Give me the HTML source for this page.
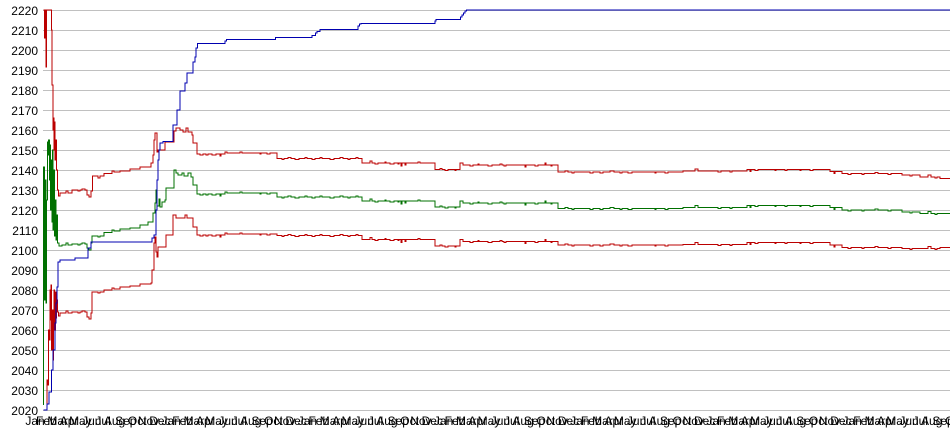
<!DOCTYPE html>
<html>
<head>
<meta charset="utf-8">
<style>
html,body{margin:0;padding:0;background:#fff;}
svg{display:block;}
text{font-family:"Liberation Sans",Arial,sans-serif;font-size:12px;fill:#000;}
</style>
</head>
<body>
<svg width="950" height="435" viewBox="0 0 950 435" xmlns="http://www.w3.org/2000/svg">
<rect x="0" y="0" width="950" height="435" fill="#fff"/>
<g stroke="#c0c0c0" stroke-width="1" shape-rendering="crispEdges">
<line x1="43" x2="950" y1="10.5" y2="10.5"/>
<line x1="43" x2="950" y1="30.5" y2="30.5"/>
<line x1="43" x2="950" y1="50.5" y2="50.5"/>
<line x1="43" x2="950" y1="70.5" y2="70.5"/>
<line x1="43" x2="950" y1="90.5" y2="90.5"/>
<line x1="43" x2="950" y1="110.5" y2="110.5"/>
<line x1="43" x2="950" y1="130.5" y2="130.5"/>
<line x1="43" x2="950" y1="150.5" y2="150.5"/>
<line x1="43" x2="950" y1="170.5" y2="170.5"/>
<line x1="43" x2="950" y1="190.5" y2="190.5"/>
<line x1="43" x2="950" y1="210.5" y2="210.5"/>
<line x1="43" x2="950" y1="230.5" y2="230.5"/>
<line x1="43" x2="950" y1="250.5" y2="250.5"/>
<line x1="43" x2="950" y1="270.5" y2="270.5"/>
<line x1="43" x2="950" y1="290.5" y2="290.5"/>
<line x1="43" x2="950" y1="310.5" y2="310.5"/>
<line x1="43" x2="950" y1="330.5" y2="330.5"/>
<line x1="43" x2="950" y1="350.5" y2="350.5"/>
<line x1="43" x2="950" y1="370.5" y2="370.5"/>
<line x1="43" x2="950" y1="390.5" y2="390.5"/>
<line x1="43" x2="950" y1="410.5" y2="410.5"/>
</g>
<g text-anchor="end">
<text x="38" y="15">2220</text>
<text x="38" y="35">2210</text>
<text x="38" y="55">2200</text>
<text x="38" y="75">2190</text>
<text x="38" y="95">2180</text>
<text x="38" y="115">2170</text>
<text x="38" y="135">2160</text>
<text x="38" y="155">2150</text>
<text x="38" y="175">2140</text>
<text x="38" y="195">2130</text>
<text x="38" y="215">2120</text>
<text x="38" y="235">2110</text>
<text x="38" y="255">2100</text>
<text x="38" y="275">2090</text>
<text x="38" y="295">2080</text>
<text x="38" y="315">2070</text>
<text x="38" y="335">2060</text>
<text x="38" y="355">2050</text>
<text x="38" y="375">2040</text>
<text x="38" y="395">2030</text>
<text x="38" y="415">2020</text>
</g>
<g text-anchor="middle">
<text x="35" y="425">Jan</text><text x="46.4" y="425">Feb</text><text x="57.7" y="425">Mar</text><text x="69.1" y="425">Apr</text><text x="80.4" y="425">May</text><text x="91.8" y="425">Jun</text><text x="103.1" y="425">Jul</text><text x="114.5" y="425">Aug</text><text x="125.8" y="425">Sep</text><text x="137.2" y="425">Oct</text><text x="148.5" y="425">Nov</text><text x="159.9" y="425">Dec</text>
<text x="171.2" y="425">Jan</text><text x="182.6" y="425">Feb</text><text x="193.9" y="425">Mar</text><text x="205.3" y="425">Apr</text><text x="216.6" y="425">May</text><text x="228" y="425">Jun</text><text x="239.3" y="425">Jul</text><text x="250.7" y="425">Aug</text><text x="262" y="425">Sep</text><text x="273.4" y="425">Oct</text><text x="284.7" y="425">Nov</text><text x="296.1" y="425">Dec</text>
<text x="307.4" y="425">Jan</text><text x="318.8" y="425">Feb</text><text x="330.1" y="425">Mar</text><text x="341.5" y="425">Apr</text><text x="352.8" y="425">May</text><text x="364.2" y="425">Jun</text><text x="375.5" y="425">Jul</text><text x="386.9" y="425">Aug</text><text x="398.2" y="425">Sep</text><text x="409.6" y="425">Oct</text><text x="420.9" y="425">Nov</text><text x="432.3" y="425">Dec</text>
<text x="443.6" y="425">Jan</text><text x="455" y="425">Feb</text><text x="466.3" y="425">Mar</text><text x="477.7" y="425">Apr</text><text x="489" y="425">May</text><text x="500.4" y="425">Jun</text><text x="511.7" y="425">Jul</text><text x="523.1" y="425">Aug</text><text x="534.4" y="425">Sep</text><text x="545.8" y="425">Oct</text><text x="557.1" y="425">Nov</text><text x="568.5" y="425">Dec</text>
<text x="579.8" y="425">Jan</text><text x="591.2" y="425">Feb</text><text x="602.5" y="425">Mar</text><text x="613.9" y="425">Apr</text><text x="625.2" y="425">May</text><text x="636.6" y="425">Jun</text><text x="647.9" y="425">Jul</text><text x="659.3" y="425">Aug</text><text x="670.6" y="425">Sep</text><text x="682" y="425">Oct</text><text x="693.3" y="425">Nov</text><text x="704.7" y="425">Dec</text>
<text x="716" y="425">Jan</text><text x="727.4" y="425">Feb</text><text x="738.7" y="425">Mar</text><text x="750.1" y="425">Apr</text><text x="761.4" y="425">May</text><text x="772.8" y="425">Jun</text><text x="784.1" y="425">Jul</text><text x="795.5" y="425">Aug</text><text x="806.8" y="425">Sep</text><text x="818.2" y="425">Oct</text><text x="829.5" y="425">Nov</text><text x="840.9" y="425">Dec</text>
<text x="852.2" y="425">Jan</text><text x="863.6" y="425">Feb</text><text x="874.9" y="425">Mar</text><text x="886.3" y="425">Apr</text><text x="897.6" y="425">May</text><text x="909" y="425">Jun</text><text x="920.3" y="425">Jul</text><text x="931.7" y="425">Aug</text><text x="943" y="425">Sep</text><text x="954.4" y="425">Oct</text>
</g>
<g fill="none" stroke-width="1" shape-rendering="crispEdges">
<path stroke="#bb0000" d="M43.5,10 H44.5 V38 H45 V10 H46 V67 H46.5 V10 H51.3 V30 H52 V85 H52.8 V130 H53.5 V118 H54 V150 H54.5 V122 H55 V160 H56 V140 H56.5 V170 H57.3 V190 H58.5 V196 H60 V193 H66 v-2h2v2 H72 V190 H78 v1h2v-1 H82 v-1h3v1 H87 V195 H89 V197 H91 V191 H92.3 V176 H98 v2h2v-2 H104 V173.5 H112 V172 v-1h2v1 H120 V171 H130 V169 H140 V167 H151 V163 H153 V155 H154 V140 H155 V133 H157 V152 H158 V150 H165 V142 H174 V131 H176 V128 H180 V130 H183 V132 H186 V128 H188 V132 H192 V135 H193 V143 H197 V154 H200 v1h3v-1 H206 v1h2v-1 H212 v1h4v-1 H220 v2h1v-2 H225 V153 v-1h2v1 H240 v-1h2v1 H260 v1h1v-1 H267 v1h3v-1 H277 V158.5 H282 v1h2v-1 H288 v-1h3v1 H295 v1h4v-1 H305 v-1h2v1 H312 v1h3v-1 H320 v-1h2v1 H330 v1h4v-1 H340 v-1h3v1 H348 v1h2v-1 H356 v-1h2v1 H362 V163 H370 v-2h2v2 H375 v1h3v-1 H385 v-1h1v1 H390 v1h4v-1 H398 v1h1v-1 H401 v3h1v-3 H405 v2h1v-2 H418 v-1h2v1 H435 V169.5 H440 v-1h2v1 H445 v1h3v-1 H455 v1h1v-1 H460 V165 v-2h3v2 H470 v1h3v-1 H478 v-1h1v1 H488 v1h4v-1 H500 v-1h2v1 H504 v1h2v-1 H525 v2h1v-2 H535 v1h3v-1 H545 v-2h1v2 H551 v1h1v-1 H558 V172 H565 v-1h3v1 H572 v1h2v-1 H590 v1h3v-1 H600 v1h3v-1 H610 v-1h4v1 H620 v1h2v-1 H628 v1h4v-1 H655 v1h1v-1 H665 v1h3v-1 H683 V171 H695 v-2h3v2 H718 v1h3v-1 H730 v1h2v-1 H747 V169.5 H750 v2h1v-2 H755 v1h3v-1 H775 v1h1v-1 H785 v1h2v-1 H800 v1h1v-1 H810 v1h3v-1 H830 V171.5 H834 v2h1v-2 H842 V173.5 H848 v1h3v-1 H862 v1h2v-1 H875 v-1h3v1 H888 v1h3v-1 H902 V175 H910 v1h2v-1 H920 V177 H928 v-2h3v2 H935 v1h2v-1 H940 V178.5 H950"/>
<path stroke="#bb0000" d="M43.5,410 H47 V380 H48 V385 H48.5 V330 H49.5 V340 H50 V290 H50.5 V320 H51 V285 H51.7 V350 H52.5 V310 H53 V360 H53.5 V320 H54 V290 H54.7 V330 H55.3 V292 H56 V318 H56.7 V300 H57.5 V312 H58.5 V316 H60 V313 H66 v-2h2v2 H72 V312 H78 v1h2v-1 H82 v-1h3v1 H87 V317 H89 V319 H91 V313 H92 V292 H98 v1h2v-1 H104 V290 H112 V289 v-1h2v1 H120 V287 H130 V286 H140 V284 H151 V283 H152 V270 H154 V243 H155 V237 H156 V252 H157 V257 H158 V247 H166 V235 H173 V215 H176 V218 H185 V215 H187 V218 H193 V227 H197 V235 H200 v1h3v-1 H206 v1h2v-1 H212 v1h4v-1 H220 v2h1v-2 H225 V234 v-1h2v1 H240 v-1h2v1 H260 v1h1v-1 H267 v1h3v-1 H277 V235.5 H282 v1h2v-1 H288 v-1h3v1 H295 v1h4v-1 H305 v-1h2v1 H312 v1h3v-1 H320 v-1h2v1 H330 v1h4v-1 H340 v-1h3v1 H348 v1h2v-1 H356 v-1h2v1 H362 V239.5 H370 v-2h2v2 H375 v1h3v-1 H385 v-1h1v1 H390 v1h4v-1 H398 v1h1v-1 H401 v3h1v-3 H405 v2h1v-2 H418 v-1h2v1 H435 V246 H440 v-1h2v1 H445 v1h3v-1 H455 v1h1v-1 H460 V241.5 v-2h3v2 H470 v1h3v-1 H478 v-1h1v1 H488 v1h4v-1 H500 v-1h2v1 H504 v1h2v-1 H525 v2h1v-2 H535 v1h3v-1 H545 v-2h1v2 H551 v1h1v-1 H558 V245 H565 v-1h3v1 H572 v1h2v-1 H590 v1h3v-1 H600 v1h3v-1 H610 v-1h4v1 H620 v1h2v-1 H628 v1h4v-1 H655 v1h1v-1 H665 v1h3v-1 H683 V244.5 H695 v-2h3v2 H718 v1h3v-1 H730 v1h2v-1 H747 V242.5 H750 v2h1v-2 H755 v1h3v-1 H775 v1h1v-1 H785 v1h2v-1 H800 v1h1v-1 H810 v1h3v-1 H830 V245 H834 v2h1v-2 H842 V247.5 H848 v1h3v-1 H862 v1h2v-1 H875 v-1h3v1 H888 v1h3v-1 H902 V248.5 H910 v1h2v-1 H920 V248.5 H928 v-2h3v2 H935 v1h2v-1 H940 V247.5 H950"/>
<path stroke="#007000" d="M43.5,405 V167 H44.5 V300 H45.5 V180 H46 V303 H46.5 V200 H47.3 V142 H48 V155 H48.5 V140 H49.3 V180 H50 V145 H50.7 V210 H51.3 V160 H52 V222 H52.5 V150 H53 V230 H54 V170 H54.5 V236 H55 V200 H56 V240 H57 V215 H57.5 V243 H59 V246 H62 V245 H66 v-2h2v2 H72 V244 H78 v1h2v-1 H82 v-1h3v1 H87 V248 H89 V250 H91 V243 H92 V236 H98 v1h2v-1 H104 V232.5 H112 V231 v-1h2v1 H120 V229 H130 V228 H140 V225 H148 V222 H153 V213 H155 V203 H156 V190 H157 V206 H159 V199 H160 V207 H162 V202 H165 V200 H166 V188 H174 V170 H176 V173 H178 V175 H182 V173 H184 V176 H188 V173 H191 V177 H193 V185 H197 V194 H200 v1h3v-1 H206 v1h2v-1 H212 v1h4v-1 H220 v2h1v-2 H225 V193 v-1h2v1 H240 v-1h2v1 H260 v1h1v-1 H267 v1h3v-1 H277 V197 H282 v1h2v-1 H288 v-1h3v1 H295 v1h4v-1 H305 v-1h2v1 H312 v1h3v-1 H320 v-1h2v1 H330 v1h4v-1 H340 v-1h3v1 H348 v1h2v-1 H356 v-1h2v1 H362 V201 H370 v-2h2v2 H375 v1h3v-1 H385 v-1h1v1 H390 v1h4v-1 H398 v1h1v-1 H401 v3h1v-3 H405 v2h1v-2 H418 v-1h2v1 H435 V207 H440 v-1h2v1 H445 v1h3v-1 H455 v1h1v-1 H460 V203 v-2h3v2 H470 v1h3v-1 H478 v-1h1v1 H488 v1h4v-1 H500 v-1h2v1 H504 v1h2v-1 H525 v2h1v-2 H535 v1h3v-1 H545 v-2h1v2 H551 v1h1v-1 H558 V208.5 H565 v-1h3v1 H572 v1h2v-1 H590 v1h3v-1 H600 v1h3v-1 H610 v-1h4v1 H620 v1h2v-1 H628 v1h4v-1 H655 v1h1v-1 H665 v1h3v-1 H683 V207.5 H695 v-2h3v2 H718 v1h3v-1 H730 v1h2v-1 H747 V205.5 H750 v2h1v-2 H755 v1h3v-1 H775 v1h1v-1 H785 v1h2v-1 H800 v1h1v-1 H810 v1h3v-1 H830 V207.5 H834 v2h1v-2 H842 V210 H848 v1h3v-1 H862 v1h2v-1 H875 v-1h3v1 H888 v1h3v-1 H902 V212 H910 v1h2v-1 H920 V213.5 H928 v-2h3v2 H935 v1h2v-1 H940 V213.5 H950"/>
<path stroke="#0000b0" d="M43.5,410 H47 V404 H49 V392 H51.7 V370 H53 V350 H55 V323 H56 V303 H57 V287 H58 V262 H60 V260 H75 V258 H88 V248 H91 V242 H152 V238 H154 V235 H156 V210 H157 V180 H158 V160 H159 V150 H160 V143 H163 V141.5 H173 V125 H177 V110 H180 V91 H185 V83 H187 V73 H193 V62 H195 V57 H196 V48 H197.5 V43.5 H225 V41 H226.5 V39.5 H275.5 V37.5 H312 V35.5 H315.5 V33 H317 V31.5 H320 V29.5 H358 V26 H359.5 V24 H361 V23.5 H435 V21 H436 V19.5 H460.5 V17 H462 V15 H463.5 V13 H465 V11 H466.5 V10 H950"/>
</g>
</svg>
</body>
</html>
